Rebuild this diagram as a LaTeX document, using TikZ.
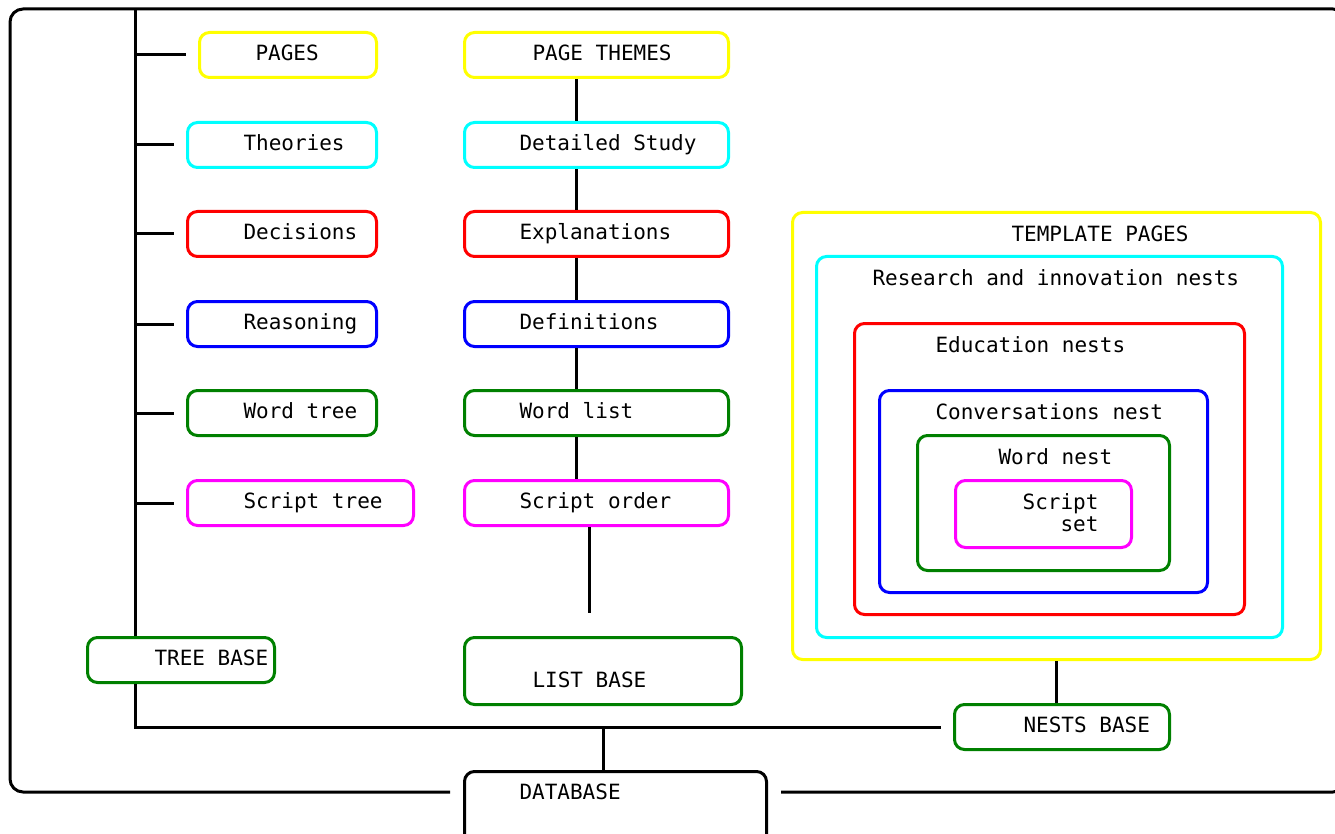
\documentclass[tikz,border=0pt]{standalone}
\usepackage{fontspec}
\setmainfont{DejaVu Sans Mono}
\definecolor{nestyellow}{RGB}{255,255,0}
\definecolor{nestcyan}{RGB}{0,255,255}
\definecolor{nestred}{RGB}{255,0,0}
\definecolor{nestblue}{RGB}{0,0,255}
\definecolor{nestgreen}{RGB}{0,128,0}
\definecolor{nestmagenta}{RGB}{255,0,255}

\tikzset{
  every node/.style={font=\fontsize{21pt}{22pt}\selectfont},
  box/.style={draw=#1, line width=3pt, rounded corners=10pt, anchor=north west,
    inner sep=0pt, minimum height=45pt, text height=16pt, text depth=5pt, align=left},
  nest/.style={draw=#1, line width=3pt, rounded corners=10pt, anchor=north west,
    inner sep=0pt, text height=29pt, align=left},
  pad/.style={execute at begin node={\spaceskip=0pt\xspaceskip=0pt\hspace*{#1}}},
  link/.style={line width=3pt},
}

\begin{document}
\begin{tikzpicture}[x=1pt, y=-1pt]
  \useasboundingbox (0,0) rectangle (1335,834);

  % tree column
  \node[box=nestyellow, pad=56pt, text width=177pt] (pages) at (198,31) {PAGES};
  \node[box=nestcyan, pad=56pt, text width=189pt] (theories) at (186,121) {Theories};
  \node[box=nestred, pad=56pt, text width=189pt] (decisions) at (186,210) {Decisions};
  \node[box=nestblue, pad=56pt, text width=189pt] (reasoning) at (186,300) {Reasoning};
  \node[box=nestgreen, pad=56pt, text width=189pt] (wtree) at (186,389) {Word tree};
  \node[box=nestmagenta, pad=56pt, text width=226pt] (stree) at (186,479) {Script tree};
  \node[box=nestgreen, pad=67pt, text width=187pt] (tree) at (86,636) {TREE BASE};

  % list column
  \node[box=nestyellow, pad=68pt, text width=264pt] (themes) at (463,31) {PAGE THEMES};
  \node[box=nestcyan, pad=55pt, text width=264pt] (study) at (463,121) {Detailed Study};
  \node[box=nestred, pad=55pt, text width=264pt] (expl) at (463,210) {Explanations};
  \node[box=nestblue, pad=55pt, text width=264pt] (defs) at (463,300) {Definitions};
  \node[box=nestgreen, pad=55pt, text width=264pt] (wlist) at (463,389) {Word list};
  \node[box=nestmagenta, pad=55pt, text width=264pt] (sorder) at (463,479) {Script order};
  \node[box=nestgreen, pad=68pt, text width=277pt, minimum height=67pt,
    text height=37pt] (list) at (463,636) {LIST BASE};

  % nests
  \node[nest=nestyellow, pad=219pt, text width=528pt, text depth=418pt] (tmpl) at (791,211) {TEMPLATE PAGES};
  \node[nest=nestcyan, pad=56pt, text width=466pt, text depth=352pt] (research) at (815,255) {Research and innovation nests};
  \node[nest=nestred, pad=81pt, text width=390pt, text depth=262pt] (edu) at (853,322) {Education nests};
  \node[nest=nestblue, pad=56pt, text width=328pt, text depth=173pt] (conv) at (878,389) {Conversations nest};
  \node[nest=nestgreen, pad=81pt, text width=252pt, text depth=106pt] (wnest) at (916,434) {Word nest};
  \node[nest=nestmagenta, inner xsep=33pt, text width=110pt, text depth=38pt, align=right] (sset) at (954,479) {Script\\set};
  \node[box=nestgreen, pad=69pt, text width=215pt] (nests) at (953,703) {NESTS BASE};

  \node[box=black, pad=55pt, text width=302pt, text height=28pt, text depth=52pt] (db) at (463,770) {DATABASE};

  \coordinate (trunk) at (135,9);
  \coordinate (corner) at (trunk |- nests.west);
  \coordinate (chain) at (576,0);
  \coordinate (lend) at (589,613);
  \coordinate (fb) at (10,792);

  % tree trunk and branches
  \draw[link] (trunk) -- (trunk |- tree.north);
  \draw[link, shorten >=12pt] (trunk |- tree.south) -- (corner) -- (nests.west);
  \foreach \n in {pages,theories,decisions,reasoning,wtree,stree}
    \draw[link, shorten >=12pt] (trunk |- \n.west) -- (\n.west);

  % list chain
  \foreach \a/\b in {themes/study,study/expl,expl/defs,defs/wlist,wlist/sorder}
    \draw[link] (chain |- \a.south) -- (chain |- \b.north);
  \draw[link] (lend |- sorder.south) -- (lend);

  \draw[link] (list.south |- corner) -- (list.south |- db.north);
  \draw[link] (tmpl.south) -- (tmpl.south |- nests.north);

  % outer frame
  \draw[link, rounded corners=13pt, shorten <=13pt, shorten >=13pt]
    (db.west |- fb) -- (fb) -- (10,9) -- (1346,9) -- (1346,792) -- (db.east |- fb);
\end{tikzpicture}
\end{document}
